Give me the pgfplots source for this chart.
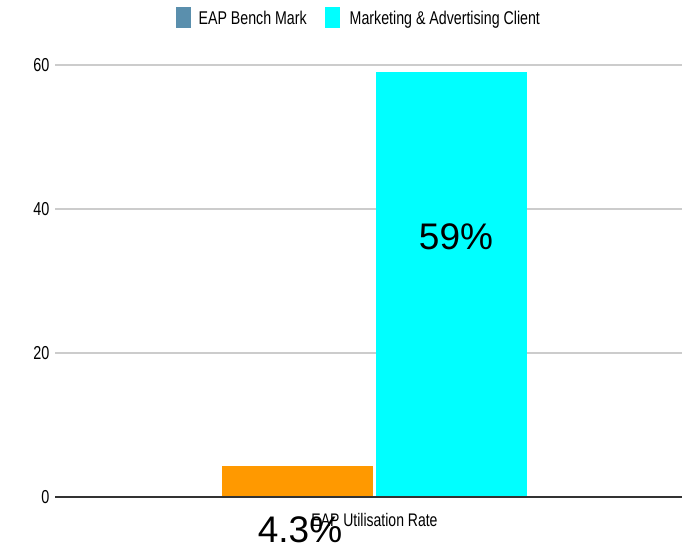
\documentclass[border=0pt]{standalone}
\usepackage{fontspec}
\setmainfont{Liberation Sans}
\usepackage{graphicx}
\usepackage{pgfplots}
\pgfplotsset{compat=1.18}
\definecolor{eapblue}{HTML}{5A8FAD}
\definecolor{barorange}{HTML}{FF9900}
\definecolor{barcyan}{HTML}{00FFFF}
\newcommand{\st}[1]{\scalebox{1}[1.3]{#1}}
\pgfplotsset{tallsq/.style={legend image code/.code={\fill[##1] (0pt,-10pt) rectangle (15pt,11pt);}}}
\begin{document}
\begin{tikzpicture}
\path[use as bounding box] (-55pt,-52pt) rectangle (627pt,497pt);
\begin{axis}[
  scale only axis,
  width=627pt, height=432pt,
  xmin=-319.5, xmax=307.5,
  ymin=0, ymax=60,
  enlargelimits=false,
  clip=false,
  axis line style={draw=none},
  tick style={draw=none},
  ytick={0,20,40,60},
  ymajorgrids,
  grid style={color=black!20, line width=1.2pt},
  yticklabel={\st{\pgfmathprintnumber{\tick}}},
  yticklabel style={font=\fontsize{14.4}{16}\selectfont, xshift=-2pt},
  /pgf/number format/assume math mode=true,
  xtick={0},
  xticklabels={\st{EAP Utilisation Rate}},
  xticklabel style={font=\fontsize{14}{16}\selectfont, anchor=center, yshift=-23pt},
  legend columns=2,
  legend style={at={(0.4845,1.109)}, anchor=center, draw=none, fill=none,
    font=\fontsize{14.2}{16}\selectfont,
    /tikz/every even column/.append style={column sep=16pt}},
]
\addlegendimage{tallsq, fill=eapblue, draw=none}
\addlegendentry{\hspace{6pt}\st{EAP Bench Mark}}
\addlegendimage{tallsq, fill=barcyan, draw=none}
\addlegendentry{\hspace{8pt}\st{Marketing \& Advertising Client}}
\addplot[ybar, bar width=151, bar shift=-77, fill=barorange, draw=none, forget plot]
  coordinates {(0,4.3)};
\addplot[ybar, bar width=151, bar shift=77, fill=barcyan, draw=none, forget plot]
  coordinates {(0,59)};
\draw[black!80, line width=1.5pt] (rel axis cs:0,0) -- (rel axis cs:1,0);
\node[font=\fontsize{37}{40}\selectfont] at (axis cs:81.5,36.1) {59\%};
\node[font=\fontsize{37}{40}\selectfont] at (axis cs:-74.5,-4.5) {4.3\%};
\end{axis}
\end{tikzpicture}
\end{document}
